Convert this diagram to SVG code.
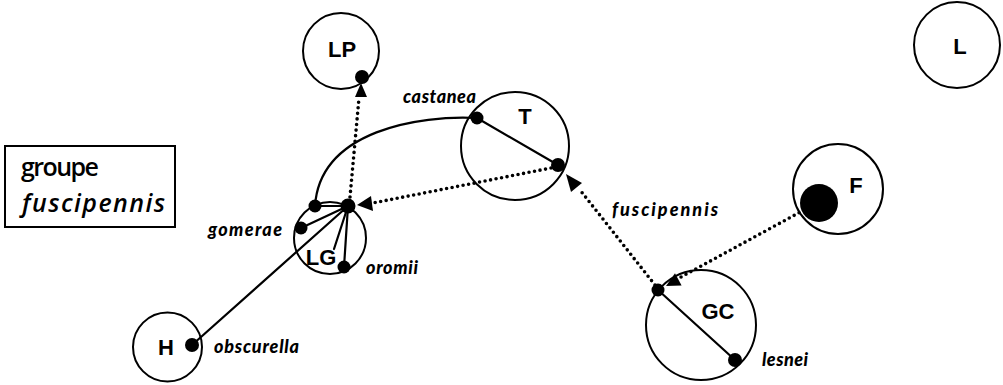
<svg xmlns="http://www.w3.org/2000/svg" width="1003" height="385" viewBox="0 0 1003 385">
  <style>
    .ring { fill: none; stroke: #000; stroke-width: 2; }
    .dot { fill: #000; }
    .solid { fill: none; stroke: #000; stroke-width: 2.2; stroke-linecap: round; }
    .dotted { fill: none; stroke: #000; stroke-width: 3.6; stroke-linecap: round; stroke-dasharray: 0 5.6; }
    .head { fill: #000; }
    .name { font-family: "Liberation Sans", Arial, sans-serif; font-weight: bold; font-size: 22px; text-anchor: middle; dominant-baseline: central; fill: #000; }
    .taxon { font-family: Lato, "Open Sans", sans-serif; font-weight: 900; font-style: italic; font-size: 18px; fill: #000; }
    .legend { font-family: "Open Sans", Lato, sans-serif; font-weight: 600; font-size: 25px; fill: #000; }
  </style>
  <rect width="1003" height="385" fill="#fff"/>

  <!-- legend box -->
  <g id="legend">
    <rect x="5" y="146" width="170" height="81" fill="none" stroke="#000" stroke-width="2"/>
    <text class="legend" x="21" y="176" font-size="24" textLength="78">groupe</text>
    <text class="legend" x="22" y="212" font-style="italic" textLength="143">fuscipennis</text>
  </g>

  <!-- connectors -->
  <g id="connectors">
    <!-- solid links -->
    <path class="solid" d="M477 118 C420 115 320 130 315 206"/>
    <line class="solid" x1="315" y1="206" x2="348" y2="206"/>
    <line class="solid" x1="301" y1="228" x2="348" y2="206"/>
    <line class="solid" x1="192" y1="345" x2="348" y2="206"/>
    <line class="solid" x1="344" y1="267" x2="348" y2="206"/>
    <line class="solid" x1="334" y1="249" x2="348" y2="206"/>
    <line class="solid" x1="477" y1="118" x2="558" y2="165"/>
    <line class="solid" x1="658" y1="290" x2="735" y2="360"/>

    <!-- dotted links with arrowheads -->
    <line class="dotted" x1="350" y1="197" x2="359" y2="98"/>
    <polygon class="head" points="361,83 355,97 367,97"/>

    <line class="dotted" x1="551" y1="168" x2="373" y2="203"/>
    <polygon class="head" points="357,205 371,196 373,211"/>

    <line class="dotted" x1="655" y1="285" x2="580" y2="190"/>
    <polygon class="head" points="566,174 582,183 571,192"/>

    <line class="dotted" x1="804" y1="210" x2="681" y2="277"/>
    <polygon class="head" points="666,286 681.6,285.6 675,273.2"/>
  </g>

  <!-- nodes -->
  <g id="node-LP">
    <circle class="ring" cx="341" cy="51" r="38"/>
    <text class="name" x="342" y="49">LP</text>
    <circle class="dot" cx="362" cy="77" r="7"/>
  </g>

  <g id="node-LG">
    <circle class="ring" cx="330" cy="238" r="36"/>
    <text class="name" x="321" y="257">LG</text>
    <circle class="dot" cx="348" cy="206" r="7.5"/>
    <circle class="dot" cx="315" cy="206" r="6.5"/>
    <circle class="dot" cx="301" cy="228" r="6.5"/>
    <circle class="dot" cx="344" cy="267" r="6.5"/>
  </g>

  <g id="node-T">
    <circle class="ring" cx="515" cy="146" r="54"/>
    <text class="name" x="525" y="116">T</text>
    <circle class="dot" cx="477" cy="118" r="6.5"/>
    <circle class="dot" cx="558" cy="165" r="7"/>
  </g>

  <g id="node-GC">
    <circle class="ring" cx="701" cy="325" r="55"/>
    <text class="name" x="718" y="311">GC</text>
    <circle class="dot" cx="658" cy="290" r="6.5"/>
    <circle class="dot" cx="735" cy="360" r="7"/>
  </g>

  <g id="node-F">
    <circle class="ring" cx="838" cy="189" r="45"/>
    <text class="name" x="856" y="185">F</text>
    <circle class="dot" cx="819" cy="203" r="19"/>
  </g>

  <g id="node-L">
    <circle class="ring" cx="957" cy="45" r="43"/>
    <text class="name" x="960" y="46">L</text>
  </g>

  <g id="node-H">
    <circle class="ring" cx="167.5" cy="347" r="34.5"/>
    <text class="name" x="166" y="347">H</text>
    <circle class="dot" cx="192" cy="345" r="7"/>
  </g>

  <!-- taxon labels -->
  <g id="labels">
    <text class="taxon" x="403" y="103" textLength="73">castanea</text>
    <text class="taxon" x="208" y="236" textLength="74">gomerae</text>
    <text class="taxon" x="366" y="274" textLength="52">oromii</text>
    <text class="taxon" x="612" y="216" textLength="106">fuscipennis</text>
    <text class="taxon" x="762" y="366" textLength="46">lesnei</text>
    <text class="taxon" x="214" y="353" textLength="85">obscurella</text>
  </g>
</svg>
